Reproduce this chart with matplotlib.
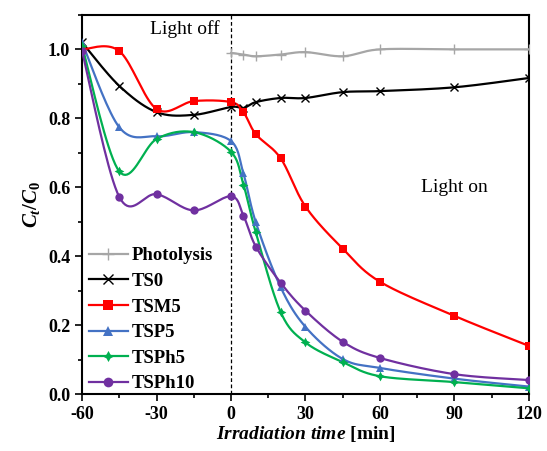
import numpy as np
import matplotlib
matplotlib.use("Agg")
import matplotlib.pyplot as plt
from matplotlib.ticker import MultipleLocator, FormatStrFormatter

# ── Data ────────────────────────────────────────────────────────────────────
t_dark = [-60, -45, -30, -15, 0, 5, 10, 20, 30, 45, 60, 90, 120]
t_photo = [0, 5, 10, 20, 30, 45, 60, 90, 120]

photolysis = [0.99, 0.985, 0.98, 0.985, 0.992, 0.98, 1.0, 1.0, 1.0]
ts0    = [1.02, 0.894, 0.818, 0.81, 0.833, 0.83, 0.847, 0.859, 0.859, 0.876, 0.879, 0.89, 0.917]
tsm5   = [1.0, 0.995, 0.827, 0.85, 0.847, 0.818, 0.754, 0.684, 0.544, 0.422, 0.326, 0.227, 0.14]
tsp5   = [1.02, 0.774, 0.748, 0.76, 0.734, 0.64, 0.498, 0.31, 0.195, 0.102, 0.076, 0.045, 0.022]
tsph5  = [1.01, 0.646, 0.74, 0.76, 0.703, 0.608, 0.469, 0.238, 0.15, 0.093, 0.052, 0.035, 0.017]
tsph10 = [0.995, 0.572, 0.58, 0.533, 0.574, 0.518, 0.428, 0.323, 0.242, 0.152, 0.105, 0.058, 0.041]

# ── Style ───────────────────────────────────────────────────────────────────
plt.rcParams["font.family"] = ["Liberation Serif", "DejaVu Serif"]
plt.rcParams["font.weight"] = "bold"
plt.rcParams["axes.labelweight"] = "bold"
plt.rcParams["axes.unicode_minus"] = False
plt.rcParams["mathtext.fontset"] = "custom"
plt.rcParams["mathtext.rm"] = "Liberation Serif:bold"
plt.rcParams["mathtext.it"] = "Liberation Serif:italic:bold"
plt.rcParams["mathtext.bf"] = "Liberation Serif:bold"

SERIES = [
    ("Photolysis", t_photo, photolysis, "#A6A6A6", "+", 7),
    ("TS0",        t_dark,  ts0,        "#000000", "x", 6),
    ("TSM5",       t_dark,  tsm5,       "#FF0000", "s", 6),
    ("TSP5",       t_dark,  tsp5,       "#4472C4", "^", 6),
    ("TSPh5",      t_dark,  tsph5,      "#00B050", (4, 1, 0), 7),
    ("TSPh10",     t_dark,  tsph10,     "#7030A0", "o", 6),
]


def smooth(x, y, n=20):
    """Excel-like smoothed line (Catmull-Rom Bezier through the points)."""
    p = np.column_stack([x, y]).astype(float)
    pts = np.vstack([p[0], p, p[-1]])
    out = []
    s = np.linspace(0, 1, n)[:, None]
    for i in range(1, len(pts) - 2):
        p0, p1, p2, p3 = pts[i - 1], pts[i], pts[i + 1], pts[i + 2]
        c1 = p1 + (p2 - p0) / 6
        c2 = p2 - (p3 - p1) / 6
        seg = ((1 - s) ** 3) * p1 + 3 * ((1 - s) ** 2) * s * c1 \
            + 3 * (1 - s) * s ** 2 * c2 + s ** 3 * p2
        out.append(seg if i == 1 else seg[1:])
    out = np.vstack(out)
    return out[:, 0], out[:, 1]


fig = plt.figure(figsize=(5.47, 4.51), dpi=100)
ax = fig.add_axes([0.150, 0.126, 0.817, 0.841])

for name, tx, vals, col, mk, ms in SERIES:
    mew = 1.0 if mk in ("+", "x") else 0.0
    sx, sy = smooth(tx, vals)
    ax.plot(sx, sy, color=col, lw=1.6, zorder=3)
    ax.plot(tx, vals, ls="none", marker=mk, color=col, ms=ms, mew=mew, zorder=4)
    ax.plot([], [], color=col, lw=1.6, marker=mk, ms=ms + 1, mew=mew, label=name)

ax.axvline(0, color="black", lw=0.9, ls=(0, (3, 2)), zorder=2)

ax.set_xlim(-60, 120)
ax.set_ylim(0, 1.1)
ax.xaxis.set_major_locator(MultipleLocator(30))
ax.xaxis.set_minor_locator(MultipleLocator(15))
ax.set_yticks(np.arange(0, 1.01, 0.2))
ax.yaxis.set_minor_locator(MultipleLocator(0.1))
ax.yaxis.set_major_formatter(FormatStrFormatter("%.1f"))
ax.tick_params(which="both", direction="out", labelsize=13, width=1.2)
ax.tick_params(which="major", length=5)
ax.tick_params(which="minor", length=3)
for sp in ax.spines.values():
    sp.set_linewidth(1.5)

ax.set_xlabel(r"$Irradiation\ time$ [min]", fontsize=14, labelpad=1)
ax.set_ylabel(r"$C_t/C_0$", fontsize=15, labelpad=4)

ax.text(-18.5, 1.06, "Light off", fontsize=14, fontweight="normal",
        ha="center", va="center")
ax.text(90, 0.60, "Light on", fontsize=14, fontweight="normal",
        ha="center", va="center")

ax.legend(loc="lower left", bbox_to_anchor=(0.015, 0.005), frameon=False,
          fontsize=13.5, handlelength=2.1, handletextpad=0.2,
          labelspacing=0.45, borderpad=0, borderaxespad=0, numpoints=1)

fig.savefig("out.png", dpi=100)
